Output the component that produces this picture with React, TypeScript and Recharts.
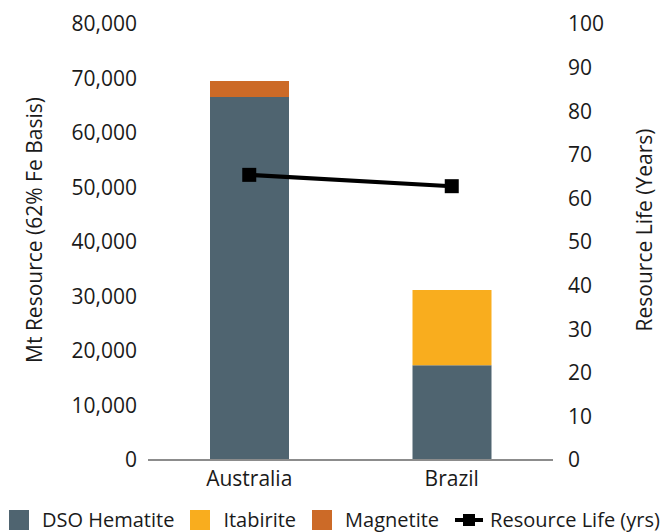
import { ComposedChart, Bar, Line, XAxis, YAxis } from "recharts";

const countries = ["Australia", "Brazil"];
const dsoHematite = [66600, 17400];
const itabirite = [0, 13800];
const magnetite = [2950, 0];
const resourceLife = [65.4, 62.8];

const leftTicks = [0, 10000, 20000, 30000, 40000, 50000, 60000, 70000, 80000];
const rightTicks = [0, 10, 20, 30, 40, 50, 60, 70, 80, 90, 100];

const series = [
  { key: "dso", name: "DSO Hematite", color: "#4f6470" },
  { key: "itabirite", name: "Itabirite", color: "#f9ad1e" },
  { key: "magnetite", name: "Magnetite", color: "#cc6a27" },
];

const FONT = "'Open Sans', sans-serif";
const TEXT = "#1a1a1a";
const FS = 21;

const data = countries.map((c, i) => ({
  country: c,
  dso: dsoHematite[i],
  itabirite: itabirite[i],
  magnetite: magnetite[i],
  life: resourceLife[i],
}));

function SquareDot(props: any) {
  const { cx, cy } = props;
  if (cx == null || cy == null) return null;
  return <rect x={cx - 7} y={cy - 7} width={14} height={14} fill="#000" />;
}

function AxisLabel({ viewBox, value, offsetX }: any) {
  const x = viewBox.x + offsetX;
  const y = viewBox.y + viewBox.height / 2 - 12;
  return (
    <text
      x={x}
      y={y}
      transform={`rotate(-90, ${x}, ${y})`}
      textAnchor="middle"
      dominantBaseline="central"
      fontSize={FS}
      fontFamily={FONT}
      fill={TEXT}
    >
      {value}
    </text>
  );
}

export default function App() {
  const tickStyle = { fontSize: FS, fill: TEXT, fontFamily: FONT };
  return (
    <div style={{ position: "absolute", left: 0, top: 0, width: 670, height: 532, overflow: "hidden", fontFamily: FONT, background: "#fff" }}>
      <ComposedChart
        width={670}
        height={532}
        data={data}
        margin={{ top: 24, right: 0, left: 0, bottom: 0 }}
      >
        <XAxis
          dataKey="country"
          height={72}
          tickLine={false}
          tickSize={0}
          tickMargin={11}
          axisLine={{ stroke: "#8c8c8c", strokeWidth: 2 }}
          tick={tickStyle}
        />
        <YAxis
          yAxisId="left"
          width={148}
          domain={[0, 80000]}
          ticks={leftTicks}
          tickFormatter={(v: number) => v.toLocaleString("en-US")}
          axisLine={false}
          tickLine={false}
          tickSize={0}
          tickMargin={11}
          tick={tickStyle}
          label={<AxisLabel value="Mt Resource (62% Fe Basis)" offsetX={34} />}
        />
        <YAxis
          yAxisId="right"
          orientation="right"
          width={117}
          domain={[0, 100]}
          ticks={rightTicks}
          axisLine={false}
          tickLine={false}
          tickSize={0}
          tickMargin={15}
          tick={{ ...tickStyle, textAnchor: "start" }}
          label={<AxisLabel value="Resource Life (Years)" offsetX={91} />}
        />
        {series.map((s) => (
          <Bar
            key={s.key}
            yAxisId="left"
            dataKey={s.key}
            name={s.name}
            stackId="a"
            fill={s.color}
            barSize={79}
            isAnimationActive={false}
          />
        ))}
        <Line
          yAxisId="right"
          dataKey="life"
          name="Resource Life (yrs)"
          stroke="#000"
          strokeWidth={4}
          dot={<SquareDot />}
          activeDot={false}
          isAnimationActive={false}
        />
      </ComposedChart>
      <div
        style={{
          position: "absolute",
          left: 9,
          top: 510,
          height: 20,
          display: "flex",
          alignItems: "center",
          fontSize: 20,
          lineHeight: "20px",
          color: TEXT,
          whiteSpace: "nowrap",
        }}
      >
        {series.map((s) => (
          <div key={s.key} style={{ display: "flex", alignItems: "center", marginRight: 16 }}>
            <span style={{ display: "inline-block", width: 20, height: 20, background: s.color, marginRight: 13 }} />
            <span>{s.name}</span>
          </div>
        ))}
        <div style={{ display: "flex", alignItems: "center" }}>
          <svg width={28} height={20} style={{ marginRight: 7 }}>
            <line x1={0} y1={10} x2={28} y2={10} stroke="#000" strokeWidth={4} />
            <rect x={8} y={4} width={12} height={12} fill="#000" />
          </svg>
          <span>Resource Life (yrs)</span>
        </div>
      </div>
    </div>
  );
}
